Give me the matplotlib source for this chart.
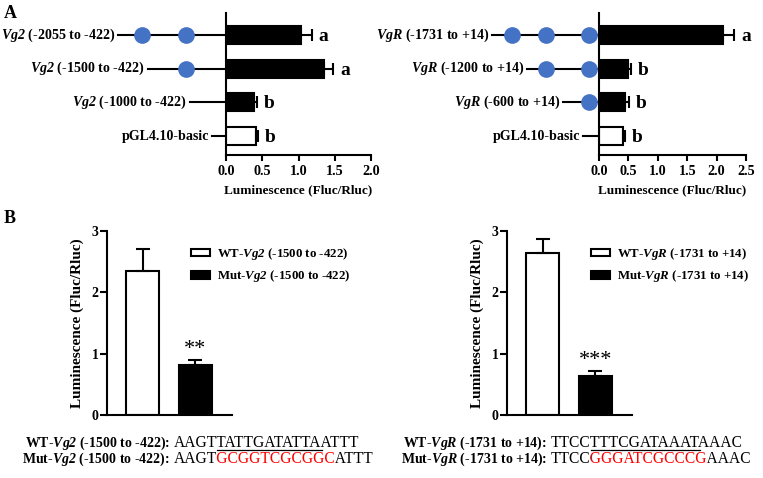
import numpy as np
import matplotlib
matplotlib.use("Agg")
import matplotlib.pyplot as plt
from matplotlib.lines import Line2D
from matplotlib.transforms import IdentityTransform, Bbox
from matplotlib.font_manager import FontProperties

plt.rcParams['font.family'] = 'Liberation Serif'
plt.rcParams['font.weight'] = 'bold'
plt.rcParams['axes.labelweight'] = 'bold'
plt.rcParams['mathtext.fontset'] = 'custom'
plt.rcParams['mathtext.it'] = 'Liberation Serif:italic:bold'
plt.rcParams['mathtext.rm'] = 'Liberation Serif:italic:bold'
plt.rcParams['axes.linewidth'] = 1.5

# === Panel A: Vg2 promoter deletions ===
vg2_labels = [r"$\mathit{Vg2}$ (-2055 to -422)", r"$\mathit{Vg2}$ (-1500 to -422)",
              r"$\mathit{Vg2}$ (-1000 to -422)", "pGL4.10-basic"]
vg2_means = [1.03, 1.35, 0.39, 0.41]
vg2_err = [0.15, 0.13, 0.04, 0.03]
vg2_letters = ['a', 'a', 'b', 'b']
vg2_filled = [True, True, True, False]
vg2_line_start = [-1.49, -1.08, -0.50, -0.19]   # schematic promoter length
vg2_sites = [[-1.16, -0.55], [-0.55], [], []]    # schematic binding sites

# === Panel A: VgR promoter deletions ===
vgr_labels = [r"$\mathit{VgR}$ (-1731 to +14)", r"$\mathit{VgR}$ (-1200 to +14)",
              r"$\mathit{VgR}$ (-600 to +14)", "pGL4.10-basic"]
vgr_means = [2.11, 0.49, 0.45, 0.40]
vgr_err = [0.19, 0.05, 0.06, 0.04]
vgr_letters = ['a', 'b', 'b', 'b']
vgr_filled = [True, True, True, False]
vgr_line_start = [-1.82, -1.22, -0.61, -0.27]
vgr_sites = [[-1.48, -0.90, -0.17], [-0.90, -0.17], [-0.17], []]

# === Panel B: mutation assays ===
vg2_mut_labels = [r"WT-$\mathit{Vg2}$ (-1500 to -422)", r"Mut-$\mathit{Vg2}$ (-1500 to -422)"]
vg2_mut_means = [2.35, 0.81]
vg2_mut_err = [0.36, 0.08]
vg2_sig = "**"

vgr_mut_labels = [r"WT-$\mathit{VgR}$ (-1731 to +14)", r"Mut-$\mathit{VgR}$ (-1731 to +14)"]
vgr_mut_means = [2.64, 0.64]
vgr_mut_err = [0.23, 0.07]
vgr_sig = "***"

# sequences: flank, core site, flank; core is underlined (WT) or red (Mut)
vg2_wt_seq = ("AAGT", "TATTGATATTA", "ATTT")
vg2_mut_seq = ("AAGT", "GCGGTCGCGGC", "ATTT")
vgr_wt_seq = ("TTCC", "TTTCGATAAAT", "AAAC")
vgr_mut_seq = ("TTCC", "GGGATCGCCCG", "AAAC")

W, H = 763, 478
fig = plt.figure(figsize=(W / 100, H / 100), dpi=100)
renderer = fig.canvas.get_renderer()
seq_prop = FontProperties(family='Liberation Serif', weight='normal', size=11.2)


def px_axes(left, top, right, bottom):
    return fig.add_axes([left / W, 1 - bottom / H, (right - left) / W, (bottom - top) / H])


def text_w(s):
    return renderer.get_text_width_height_descent(s, seq_prop, ismath=False)[0]


def promoter_panel(ax, labels, means, errs, letters, filled, starts, sites, xmax):
    ypos = np.arange(len(means))[::-1]
    colors = ['black' if f else 'white' for f in filled]
    ax.barh(ypos, means, height=0.53, color=colors, edgecolor='black', linewidth=1.5, zorder=2)
    ax.errorbar(means, ypos, xerr=[np.zeros(len(errs)), errs], fmt='none', ecolor='black',
                elinewidth=1.5, capsize=4, capthick=1.5, zorder=3)
    for y, m, e, let in zip(ypos, means, errs, letters):
        ax.annotate(let, (m + e, y), xytext=(5, -1), textcoords='offset points',
                    ha='left', va='center', fontsize=14, fontweight='bold',
                    annotation_clip=False)
    for y, s, lab, st in zip(ypos, starts, labels, sites):
        ax.plot([s, 0], [y, y], color='black', lw=1.5, clip_on=False, zorder=1)
        ax.plot(st, [y] * len(st), 'o', color='#4472C4', ms=11, clip_on=False, zorder=4)
        ax.annotate(lab, (s, y), xytext=(-2, 0), textcoords='offset points',
                    ha='right', va='center', fontsize=10.1, fontweight='bold',
                    annotation_clip=False)
    ticks = np.arange(0, xmax + 0.01, 0.5)
    ax.set_xlim(0, xmax)
    ax.set_ylim(-0.56, 3.65)
    ax.set_xticks(ticks)
    ax.set_xticklabels([f"{v:.1f}" for v in ticks], fontweight='bold')
    ax.set_yticks([])
    ax.spines[['top', 'right']].set_visible(False)
    ax.tick_params(axis='x', length=4, width=1.5, labelsize=10.2, pad=3)
    ax.set_xlabel("Luminescence (Fluc/Rluc)", fontsize=9.5, fontweight='bold', labelpad=5)


def mutation_panel(ax, labels, means, errs, sig, leg_xy):
    xpos = [1, 2]
    bars = ax.bar(xpos, means, width=0.63, color=['white', 'black'], edgecolor='black',
                  linewidth=1.5, zorder=2)
    ax.errorbar(xpos, means, yerr=[np.zeros(2), errs], fmt='none', ecolor='black',
                elinewidth=1.5, capsize=5, capthick=1.5, zorder=3)
    ax.annotate(sig, (xpos[1], means[1] + errs[1]), xytext=(0, 1), textcoords='offset points',
                ha='center', va='bottom', fontsize=16, fontweight='normal')
    ax.set_ylim(0, 3)
    ax.set_yticks([0, 1, 2, 3])
    ax.set_yticklabels(["0", "1", "2", "3"], fontweight='bold')
    ax.set_xticks([])
    ax.spines[['top', 'right']].set_visible(False)
    ax.tick_params(axis='y', length=5, width=1.5, labelsize=10, pad=1)
    ax.legend(bars, labels, loc='upper left', bbox_to_anchor=(leg_xy[0] / W, 1 - leg_xy[1] / H),
              bbox_transform=fig.transFigure, frameon=False,
              prop={'size': 9.3, 'weight': 'bold'}, handlelength=1.45,
              handleheight=0.5, handletextpad=0.6, labelspacing=0.5, borderpad=0,
              borderaxespad=0)


def seq_row(x_label, x_seq, y, label, parts, mutant):
    yd = H - y
    tr = IdentityTransform()
    fig.text(x_label, yd, label, ha='right', va='baseline', fontsize=10, fontweight='bold',
             transform=tr)
    head, core, tail = parts
    full = head + core + tail
    x_core = round(x_seq + text_w(head))
    x_tail = round(x_seq + text_w(head + core))
    core_color = 'red' if mutant else 'black'
    # same full string drawn in each colour, clipped to its own stretch
    for x0, x1, color in [(0, x_core, 'black'), (x_core, x_tail, core_color), (x_tail, W, 'black')]:
        t = fig.text(x_seq, yd, full, ha='left', va='baseline', fontproperties=seq_prop,
                     color=color, transform=tr)
        t.set_clip_box(Bbox.from_extents(x0, yd - 20, x1, yd + 20))
        t.set_clip_on(True)
    if not mutant:
        fig.add_artist(Line2D([x_core, x_tail], [yd - 2.5, yd - 2.5], color='black',
                              lw=0.9, transform=tr))


ax1 = px_axes(226, 13, 371, 155)
promoter_panel(ax1, vg2_labels, vg2_means, vg2_err, vg2_letters, vg2_filled,
               vg2_line_start, vg2_sites, 2.0)
ax2 = px_axes(599, 13, 746, 155)
promoter_panel(ax2, vgr_labels, vgr_means, vgr_err, vgr_letters, vgr_filled,
               vgr_line_start, vgr_sites, 2.5)

ax3 = px_axes(107, 231, 232, 415)
ax3.set_xlim(0.324, 2.70)
mutation_panel(ax3, vg2_mut_labels, vg2_mut_means, vg2_mut_err, vg2_sig, (191, 246))
ax4 = px_axes(507, 231, 632, 415)
ax4.set_xlim(0.324, 2.70)
mutation_panel(ax4, vgr_mut_labels, vgr_mut_means, vgr_mut_err, vgr_sig, (591, 246))

fig.text(77 / W, 1 - 323 / H, "Luminescence (Fluc/Rluc)", rotation=90, ha='center',
         va='center', fontsize=11, fontweight='bold')
fig.text(477 / W, 1 - 323 / H, "Luminescence (Fluc/Rluc)", rotation=90, ha='center',
         va='center', fontsize=11, fontweight='bold')

seq_row(170, 174, 447, r"WT-$\mathit{Vg2}$ (-1500 to -422):", vg2_wt_seq, False)
seq_row(170, 174, 463, r"Mut-$\mathit{Vg2}$ (-1500 to -422):", vg2_mut_seq, True)
seq_row(547, 551, 447, r"WT-$\mathit{VgR}$ (-1731 to +14):", vgr_wt_seq, False)
seq_row(547, 551, 463, r"Mut-$\mathit{VgR}$ (-1731 to +14):", vgr_mut_seq, True)

fig.text(4 / W, 1 - 5 / H, "A", ha='left', va='top', fontsize=13, fontweight='bold')
fig.text(4 / W, 1 - 210 / H, "B", ha='left', va='top', fontsize=13, fontweight='bold')

fig.savefig("out.png", dpi=100)
